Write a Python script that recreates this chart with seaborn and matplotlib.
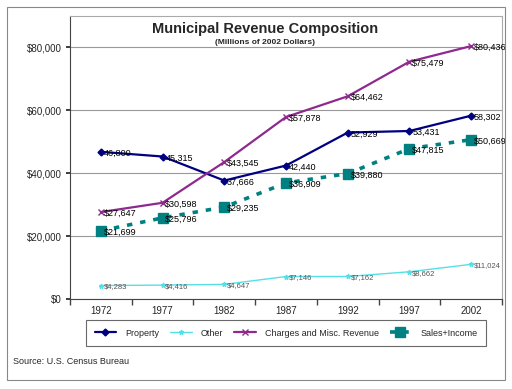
import numpy as np
import pandas as pd
import matplotlib
matplotlib.use("Agg")
import matplotlib.pyplot as plt
import seaborn as sns
from matplotlib.patches import Rectangle

# data
years = ["1972", "1977", "1982", "1987", "1992", "1997", "2002"]
property_rev = [46800, 45315, 37666, 42440, 52929, 53431, 58302]
other_rev = [4283, 4416, 4647, 7146, 7162, 8662, 11024]
charges_rev = [27647, 30598, 43545, 57878, 64462, 75479, 80436]
sales_rev = [21699, 25796, 29235, 36909, 39880, 47815, 50669]
y_ticks = [0, 20000, 40000, 60000, 80000]

sns.set_theme(style="white")
plt.rcParams['font.family'] = ['Liberation Sans', 'DejaVu Sans']

fig = plt.figure(figsize=(5.12, 3.89), dpi=100)
ax = fig.add_axes([70 / 512, 1 - 299 / 389, 432 / 512, 283 / 389])

x = np.arange(len(years))

series = [
    ("Property", property_rev, "#000080", "D", 3.5, "-", 1.6, "{:,}", "black", 6.5),
    ("Other", other_rev, "#55E0E6", "*", 3.5, "-", 1.0, "${:,}", "#555555", 5.5),
    ("Charges and Misc. Revenue", charges_rev, "#8E2A8E", "x", 4.5, "-", 1.6, "${:,}", "black", 6.5),
    ("Sales+Income", sales_rev, "#008080", "s", 6.5, (0, (1.5, 2.2)), 2.6, "${:,}", "black", 6.5),
]

for name, vals, col, mk, ms, ls, lw, fmt, tcol, tsize in series:
    sns.lineplot(x=x, y=vals, ax=ax, color=col, marker=mk, markersize=ms,
                 linestyle=ls, linewidth=lw, markeredgecolor=col,
                 markeredgewidth=1.0, label=name, legend=False)
    for xi, v in zip(x, vals):
        ax.annotate(fmt.format(v), (xi, v), xytext=(2, -1), textcoords="offset points",
                    fontsize=tsize, color=tcol, va="center", ha="left")

ax.set_xlim(-0.5, 6.5)
ax.set_ylim(0, 90000)
ax.set_yticks(y_ticks)
ax.set_yticklabels(["${:,}".format(v) for v in y_ticks], fontsize=7)
ax.set_xticks(x)
ax.set_xticklabels(years, fontsize=7)
ax.tick_params(axis="x", length=0, pad=5)
ax.tick_params(axis="y", length=3, left=True, pad=3)
ax.set_xticks(np.arange(-0.5, 7, 1), minor=True)
ax.tick_params(axis="x", which="minor", length=4, bottom=True, color="#444444")
ax.set_xlabel("")
ax.set_ylabel("")
ax.grid(axis="y", color="#999999", linewidth=0.8)
ax.set_axisbelow(True)
for s in ["top", "right"]:
    ax.spines[s].set_color("#aaaaaa")
    ax.spines[s].set_linewidth(0.8)
for s in ["left", "bottom"]:
    ax.spines[s].set_color("#444444")
    ax.spines[s].set_linewidth(0.8)

fig.text(265 / 512, 1 - 29 / 389, "Municipal Revenue Composition", ha="center", va="center",
         fontsize=10.5, fontweight="bold")
fig.text(265 / 512, 1 - 43 / 389, "(Millions of 2002 Dollars)", ha="center", va="center",
         fontsize=6, fontweight="bold")

h, l = ax.get_legend_handles_labels()
leg = fig.legend(h, l, loc="center", bbox_to_anchor=(286 / 512, 1 - 333 / 389), ncol=4,
                 fontsize=6.5, frameon=True, fancybox=False, edgecolor="#444444",
                 handlelength=2.4, handletextpad=1.0, columnspacing=1.2, borderpad=0.9)
leg.get_frame().set_linewidth(0.8)

fig.text(13 / 512, 1 - 361 / 389, "Source: U.S. Census Bureau", ha="left", va="center", fontsize=6.5)

fig.patches.append(Rectangle((7 / 512, 1 - 380 / 389), 498 / 512, 373 / 389,
                             transform=fig.transFigure, fill=False, edgecolor="#888888",
                             linewidth=0.8))

fig.savefig("out.png", dpi=100)
